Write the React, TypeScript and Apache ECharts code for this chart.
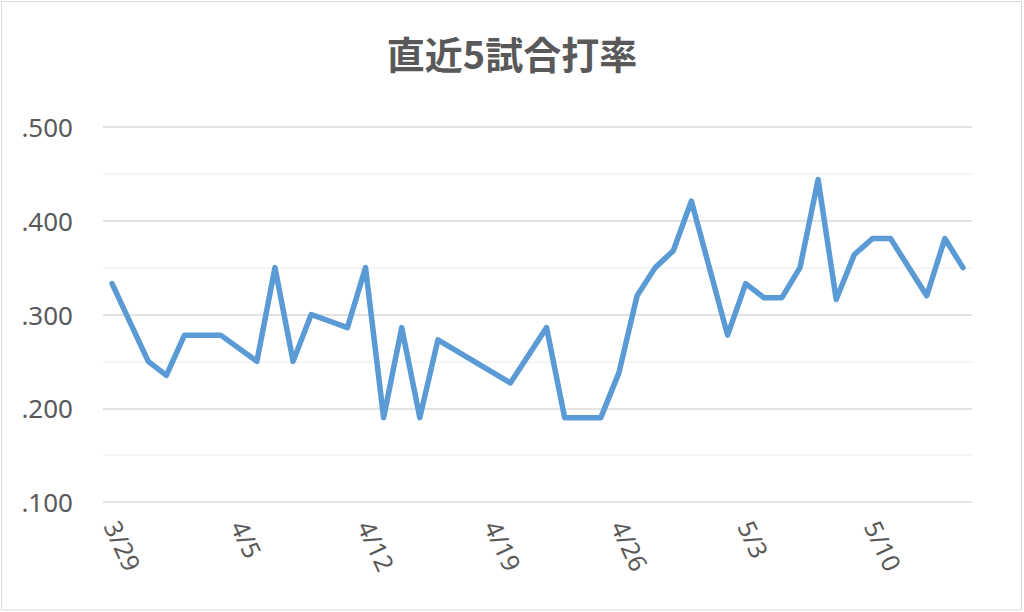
import React, { useEffect, useRef } from "react";
import * as echarts from "echarts";

const title = "直近5試合打率";

// every calendar day on the axis (date axis, 7-day major unit)
const days = [
  "3/29", "3/30", "3/31", "4/1", "4/2", "4/3", "4/4", "4/5", "4/6", "4/7",
  "4/8", "4/9", "4/10", "4/11", "4/12", "4/13", "4/14", "4/15", "4/16", "4/17",
  "4/18", "4/19", "4/20", "4/21", "4/22", "4/23", "4/24", "4/25", "4/26", "4/27",
  "4/28", "4/29", "4/30", "5/1", "5/2", "5/3", "5/4", "5/5", "5/6", "5/7",
  "5/8", "5/9", "5/10", "5/11", "5/12", "5/13", "5/14", "5/15",
];

// game dates and 5-game batting averages
const gameDays = [
  "3/29", "3/31", "4/1", "4/2", "4/4", "4/6", "4/7", "4/8", "4/9", "4/11",
  "4/12", "4/13", "4/14", "4/15", "4/16", "4/20", "4/22", "4/23", "4/25", "4/26",
  "4/27", "4/28", "4/29", "4/30", "5/2", "5/3", "5/4", "5/5", "5/6", "5/7",
  "5/8", "5/9", "5/10", "5/11", "5/13", "5/14", "5/15",
];
const avg = [
  0.333, 0.25, 0.235, 0.278, 0.278, 0.25, 0.35, 0.25, 0.3, 0.286,
  0.35, 0.19, 0.286, 0.19, 0.273, 0.227, 0.286, 0.19, 0.19, 0.238,
  0.32, 0.35, 0.368, 0.421, 0.278, 0.333, 0.318, 0.318, 0.35, 0.444,
  0.316, 0.364, 0.381, 0.381, 0.32, 0.381, 0.35,
];

const yMin = 0.1;
const yMax = 0.5;
const yStep = 0.1;

export default function App() {
  const ref = useRef<HTMLDivElement>(null);

  useEffect(() => {
    document.body.style.margin = "0";
    if (!ref.current) return;
    const chart = echarts.init(ref.current, undefined, { renderer: "svg" });
    const seriesData = days.map((d) => {
      const i = gameDays.indexOf(d);
      return i >= 0 ? avg[i] : null;
    });
    chart.setOption({
      animation: false,
      backgroundColor: "#ffffff",
      title: {
        text: title,
        left: "center",
        top: 28,
        textStyle: {
          fontFamily: "Noto Sans CJK JP",
          fontWeight: "bold",
          fontSize: 38,
          color: "#595959",
        },
      },
      graphic: [
        {
          type: "rect",
          shape: { x: 1.5, y: 1.5, width: 1020, height: 608.5 },
          style: { fill: "none", stroke: "#D9D9D9", lineWidth: 1 },
          silent: true,
        },
      ],
      grid: { left: 103, right: 52, top: 127, bottom: 110, containLabel: false },
      xAxis: {
        type: "category",
        data: days,
        boundaryGap: true,
        axisLine: { show: false },
        axisTick: { show: false },
        splitLine: { show: false },
        axisLabel: {
          interval: 6,
          rotate: -65,
          margin: 20,
          fontFamily: "Noto Sans",
          fontSize: 25,
          color: "#595959",
        },
      },
      yAxis: {
        type: "value",
        min: yMin,
        max: yMax,
        interval: yStep,
        axisLine: { show: false },
        axisTick: { show: false },
        axisLabel: {
          margin: 30,
          fontFamily: "Noto Sans",
          fontSize: 26,
          color: "#595959",
          formatter: (v: number) => v.toFixed(3).replace(/^0/, ""),
        },
        splitLine: { show: true, lineStyle: { color: "#D9D9D9", width: 1.5 } },
        minorTick: { show: false, splitNumber: 2 },
        minorSplitLine: { show: true, lineStyle: { color: "#F2F2F2", width: 1.5 } },
      },
      series: [
        {
          type: "line",
          data: seriesData,
          connectNulls: true,
          showSymbol: false,
          symbol: "none",
          lineStyle: { color: "#5B9BD5", width: 5.5, join: "round", cap: "round" },
          itemStyle: { color: "#5B9BD5" },
        },
      ],
    });
    return () => chart.dispose();
  }, []);

  return <div ref={ref} style={{ width: 1024, height: 612 }} />;
}
